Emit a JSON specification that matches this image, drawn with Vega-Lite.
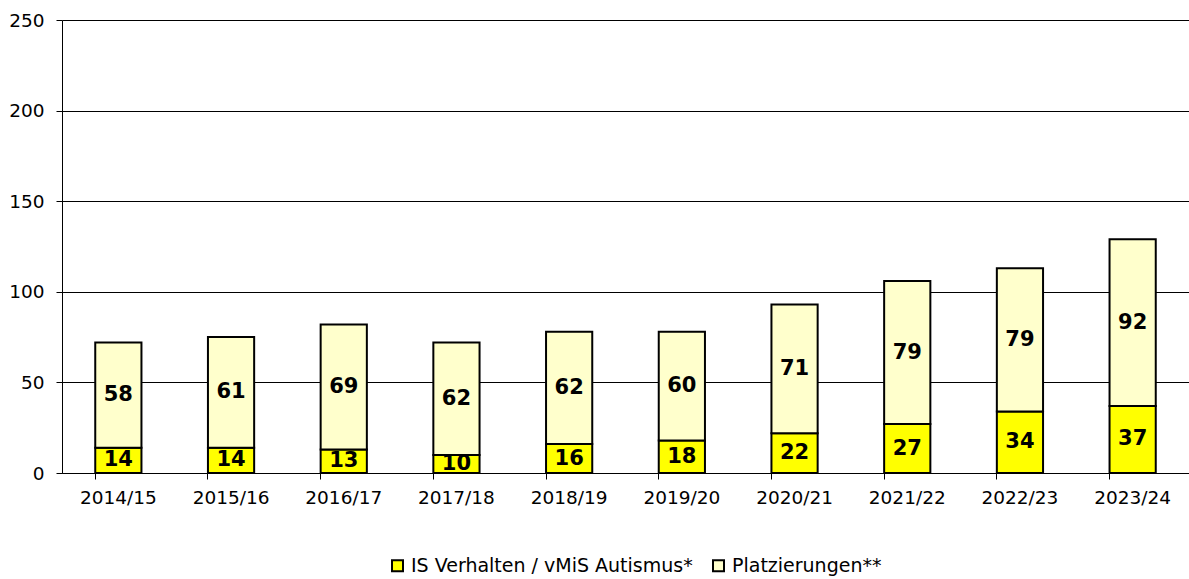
{
  "$schema": "https://vega.github.io/schema/vega-lite/v6.json",
  "width": 1127,
  "height": 453,
  "autosize": {"type": "none"},
  "padding": {"left": 62, "top": 20, "right": 0, "bottom": 106},
  "background": "white",
  "config": {
    "view": {"stroke": null},
    "font": "DejaVu Sans",
    "axis": {"labelFont": "DejaVu Sans", "labelFontSize": 18.5, "labelColor": "#000", "domainColor": "#000", "tickColor": "#000", "domainWidth": 1, "tickWidth": 1, "tickSize": 6}
  },
  "data": {
    "values": [
      {"year": "2014/15", "series": "IS Verhalten / vMiS Autismus*", "value": 14},
      {"year": "2015/16", "series": "IS Verhalten / vMiS Autismus*", "value": 14},
      {"year": "2016/17", "series": "IS Verhalten / vMiS Autismus*", "value": 13},
      {"year": "2017/18", "series": "IS Verhalten / vMiS Autismus*", "value": 10},
      {"year": "2018/19", "series": "IS Verhalten / vMiS Autismus*", "value": 16},
      {"year": "2019/20", "series": "IS Verhalten / vMiS Autismus*", "value": 18},
      {"year": "2020/21", "series": "IS Verhalten / vMiS Autismus*", "value": 22},
      {"year": "2021/22", "series": "IS Verhalten / vMiS Autismus*", "value": 27},
      {"year": "2022/23", "series": "IS Verhalten / vMiS Autismus*", "value": 34},
      {"year": "2023/24", "series": "IS Verhalten / vMiS Autismus*", "value": 37},
      {"year": "2014/15", "series": "Platzierungen**", "value": 58},
      {"year": "2015/16", "series": "Platzierungen**", "value": 61},
      {"year": "2016/17", "series": "Platzierungen**", "value": 69},
      {"year": "2017/18", "series": "Platzierungen**", "value": 62},
      {"year": "2018/19", "series": "Platzierungen**", "value": 62},
      {"year": "2019/20", "series": "Platzierungen**", "value": 60},
      {"year": "2020/21", "series": "Platzierungen**", "value": 71},
      {"year": "2021/22", "series": "Platzierungen**", "value": 79},
      {"year": "2022/23", "series": "Platzierungen**", "value": 79},
      {"year": "2023/24", "series": "Platzierungen**", "value": 92}
    ]
  },
  "transform": [
    {"stack": "value", "groupby": ["year"], "sort": [{"field": "series", "order": "ascending"}], "as": ["v0", "v1"]},
    {"calculate": "(datum.v0 + datum.v1) / 2", "as": "mid"}
  ],
  "encoding": {
    "x": {
      "field": "year", "type": "nominal", "title": null,
      "scale": {"paddingInner": 0.59, "paddingOuter": 0.295},
      "axis": {"labelAngle": 0, "bandPosition": 0, "labelPadding": 9, "grid": false}
    }
  },
  "resolve": {"scale": {"y": "shared"}},
  "layer": [
    {
      "mark": {"type": "bar", "stroke": "#000", "strokeWidth": 2},
      "encoding": {
        "y": {"field": "v0", "type": "quantitative", "title": null,
          "scale": {"domain": [0, 250], "nice": false, "zero": true},
          "axis": {"values": [0, 50, 100, 150, 200, 250], "grid": true, "gridColor": "#000", "gridWidth": 1, "labelPadding": 12}},
        "y2": {"field": "v1"},
        "color": {"field": "series", "type": "nominal",
          "scale": {"domain": ["IS Verhalten / vMiS Autismus*", "Platzierungen**"], "range": ["#FFFF00", "#FFFFCC"]},
          "legend": {"title": null, "orient": "none", "direction": "horizontal", "legendX": 326, "legendY": 536,
            "symbolType": "square", "symbolSize": 121, "symbolStrokeColor": "#000", "symbolStrokeWidth": 2, "symbolOpacity": 1,
            "labelFont": "DejaVu Sans", "labelFontSize": 19, "labelColor": "#000", "labelOffset": 4, "labelLimit": 0, "columnPadding": 16, "padding": 0}}
      }
    },
    {
      "mark": {"type": "text", "fontWeight": "bold", "fontSize": 21, "font": "DejaVu Sans", "color": "#000", "baseline": "middle"},
      "encoding": {
        "y": {"field": "mid", "type": "quantitative", "scale": {"domain": [0, 250], "nice": false, "zero": true}},
        "text": {"field": "value", "type": "quantitative"}
      }
    }
  ]
}
